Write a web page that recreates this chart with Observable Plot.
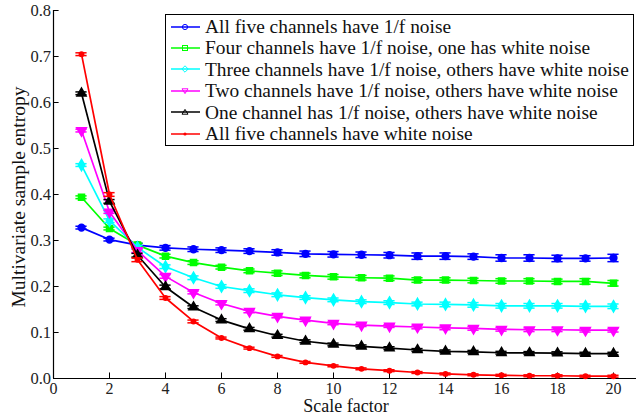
<!DOCTYPE html>
<html>
<head>
<meta charset="utf-8">
<script src="https://cdn.jsdelivr.net/npm/d3@7"></script>
<script src="https://cdn.jsdelivr.net/npm/@observablehq/plot@0.6"></script>
<style>
  html, body { margin: 0; padding: 0; background: #fff; overflow: hidden; }
  #wrap { position: relative; width: 636px; height: 415px; }
  #legend { position: absolute; left: 165px; top: 14px; width: 467px; height: 130px;
    border: 1.5px solid #000; background: #fff; font-family: "Liberation Serif", "Times New Roman", serif;
    font-size: 19.4px; color: #111; box-sizing: content-box; }
  .row { position: absolute; left: 5px; height: 21px; display: flex; align-items: center; white-space: nowrap; line-height: 21px; }
  .row svg { margin-right: 5px; flex: none; }
  svg text { font-family: "Liberation Serif", "Times New Roman", serif; }
</style>
</head>
<body>
<div id="wrap"><div id="legend"></div></div>
<script>
const scales = [1,2,3,4,5,6,7,8,9,10,11,12,13,14,15,16,17,18,19,20];
const seriesNames = [
  "All five channels have 1/f noise",
  "Four channels have 1/f noise, one has white noise",
  "Three channels have 1/f noise, others have white noise",
  "Two channels have 1/f noise, others have white noise",
  "One channel has 1/f noise, others have white noise",
  "All five channels have white noise"
];
const seriesColors = ["#0000ff", "#00ff00", "#00ffff", "#ff00ff", "#000000", "#ff0000"];
const seriesSymbols = ["circle", "square", "diamond", "triangle-down", "triangle", "dot"];
const xTitle = "Scale factor";
const yTitle = "Multivariate sample entropy";

const fiveOneF   = [0.328,0.302,0.290,0.284,0.281,0.279,0.277,0.274,0.271,0.270,0.269,0.268,0.266,0.266,0.265,0.262,0.262,0.261,0.261,0.262];
const fourOneF   = [0.394,0.326,0.290,0.266,0.252,0.242,0.234,0.229,0.224,0.221,0.219,0.218,0.214,0.214,0.213,0.212,0.212,0.211,0.211,0.207];
const threeOneF  = [0.464,0.343,0.285,0.243,0.219,0.200,0.191,0.182,0.176,0.171,0.167,0.165,0.162,0.161,0.160,0.158,0.158,0.158,0.157,0.157];
const twoOneF    = [0.539,0.362,0.278,0.222,0.187,0.163,0.146,0.135,0.127,0.120,0.116,0.114,0.112,0.110,0.109,0.107,0.106,0.106,0.105,0.105];
const oneOneF    = [0.620,0.385,0.268,0.199,0.155,0.127,0.108,0.093,0.081,0.074,0.070,0.066,0.062,0.059,0.058,0.056,0.0555,0.055,0.054,0.054];
const allWhite   = [0.705,0.400,0.258,0.175,0.124,0.088,0.066,0.048,0.035,0.0275,0.021,0.017,0.013,0.010,0.008,0.007,0.006,0.006,0.005,0.005];

const fiveOneFErr  = [0.003,0.003,0.004,0.005,0.005,0.005,0.005,0.006,0.006,0.006,0.006,0.006,0.007,0.007,0.006,0.007,0.007,0.007,0.006,0.008];
const fourOneFErr  = [0.003,0.003,0.004,0.004,0.004,0.004,0.004,0.005,0.005,0.005,0.005,0.005,0.005,0.005,0.005,0.005,0.005,0.005,0.006,0.006];
const threeOneFErr = [0.003,0.004,0.004,0.004,0.004,0.004,0.004,0.004,0.004,0.004,0.004,0.004,0.004,0.005,0.005,0.005,0.005,0.005,0.005,0.005];
const twoOneFErr   = [0.003,0.003,0.004,0.004,0.003,0.003,0.003,0.003,0.003,0.003,0.003,0.003,0.004,0.004,0.004,0.004,0.004,0.004,0.004,0.004];
const oneOneFErr   = [0.003,0.004,0.004,0.004,0.003,0.003,0.003,0.003,0.003,0.003,0.003,0.003,0.003,0.003,0.003,0.003,0.003,0.003,0.003,0.003];
const allWhiteErr  = [0.003,0.004,0.004,0.003,0.003,0.002,0.002,0.002,0.002,0.002,0.002,0.002,0.002,0.002,0.002,0.002,0.002,0.002,0.002,0.002];

const xTicks = [0,2,4,6,8,10,12,14,16,18,20];
const yTicks = [0,0.1,0.2,0.3,0.4,0.5,0.6,0.7,0.8];

const allValues = [fiveOneF, fourOneF, threeOneF, twoOneF, oneOneF, allWhite];
const allErrs = [fiveOneFErr, fourOneFErr, threeOneFErr, twoOneFErr, oneOneFErr, allWhiteErr];

const rows = [];
allValues.forEach((vals, i) => {
  vals.forEach((v, j) => rows.push({series: seriesNames[i], idx: i, scale: scales[j], value: v, err: allErrs[i][j]}));
});

const marks = [];
marks.push(Plot.ruleY([0], {stroke: "#000", strokeWidth: 1.2}));
marks.push(Plot.ruleX([0], {stroke: "#000", strokeWidth: 1.2}));
marks.push(Plot.ruleX(xTicks.slice(1), {x: d => d, y1: 0, y2: 0.012, stroke: "#000"}));
marks.push(Plot.ruleY(yTicks.slice(1), {y: d => d, x1: 0, x2: 0.2, stroke: "#000"}));
marks.push(Plot.axisX({ticks: xTicks, tickSize: 0, tickPadding: 4.5, fontSize: 16, fill: "#222", label: null}));
marks.push(Plot.axisY({ticks: yTicks, tickSize: 0, tickPadding: 2.5, fontSize: 16.5, fill: "#222", label: null}));
marks.push(Plot.text([xTitle], {text: d => d, frameAnchor: "bottom", textAnchor: "middle", lineAnchor: "bottom", dy: 33, dx: 1, fontSize: 18, fill: "#111"}));
marks.push(Plot.text([yTitle], {text: d => d, frameAnchor: "left", textAnchor: "middle", lineAnchor: "middle", rotate: -90, dx: -35, dy: 2.5, fontSize: 19.5, fill: "#111"}));

allValues.forEach((vals, i) => {
  const data = rows.filter(r => r.idx === i);
  const c = seriesColors[i];
  marks.push(Plot.line(data, {x: "scale", y: "value", stroke: c, strokeWidth: 1.7}));
  marks.push(Plot.ruleX(data, {x: "scale", y1: d => d.value - d.err, y2: d => d.value + d.err, stroke: c, strokeWidth: 1.5}));
  marks.push(Plot.ruleY(data, {y: d => d.value - d.err, x1: d => d.scale - 0.2, x2: d => d.scale + 0.2, stroke: c, strokeWidth: 1.5}));
  marks.push(Plot.ruleY(data, {y: d => d.value + d.err, x1: d => d.scale - 0.2, x2: d => d.scale + 0.2, stroke: c, strokeWidth: 1.5}));
  const sym = seriesSymbols[i];
  if (sym === "triangle-down") {
    marks.push(Plot.dot(data, {x: "scale", y: "value", symbol: "triangle", rotate: 180, r: 3.6, fill: c, stroke: c}));
  } else if (sym === "dot") {
    marks.push(Plot.dot(data, {x: "scale", y: "value", symbol: "circle", r: 2.2, fill: c, stroke: c}));
  } else {
    marks.push(Plot.dot(data, {x: "scale", y: "value", symbol: sym, r: 3.4, fill: c, stroke: c}));
  }
});

const chart = Plot.plot({
  width: 636,
  height: 415,
  marginLeft: 53,
  marginRight: 0,
  marginTop: 10,
  marginBottom: 37,
  style: {fontSize: "16px", background: "#fff", color: "#000"},
  x: {domain: [0, 21], range: [53, 641], axis: null},
  y: {domain: [0, 0.8], axis: null},
  marks
});
const wrap = document.getElementById("wrap");
wrap.insertBefore(chart, wrap.firstChild);

const legend = document.getElementById("legend");
seriesNames.forEach((name, i) => {
  const row = document.createElement("div");
  row.className = "row";
  row.style.top = (1 + i * 21.4) + "px";
  const c = seriesColors[i];
  const s = seriesSymbols[i];
  let m = "";
  if (s === "circle") m = `<circle cx="14" cy="6" r="2.6" fill="none" stroke="${c}" stroke-width="1"/>`;
  else if (s === "square") m = `<rect x="11.5" y="3.5" width="5" height="5" fill="none" stroke="${c}" stroke-width="1"/>`;
  else if (s === "diamond") m = `<path d="M14 2.8L17.2 6L14 9.2L10.8 6Z" fill="none" stroke="${c}" stroke-width="1"/>`;
  else if (s === "triangle-down") m = `<path d="M11 3.8L17 3.8L14 8.6Z" fill="none" stroke="${c}" stroke-width="1"/>`;
  else if (s === "triangle") m = `<path d="M11 8.2L17 8.2L14 3.4Z" fill="none" stroke="${c}" stroke-width="1"/>`;
  else m = `<circle cx="14" cy="6" r="1.6" fill="${c}"/>`;
  row.innerHTML = `<svg width="29" height="12"><line x1="0" y1="6" x2="29" y2="6" stroke="${c}" stroke-width="1.5"/>${m}</svg><span>${name}</span>`;
  legend.appendChild(row);
});
</script>
</body>
</html>
